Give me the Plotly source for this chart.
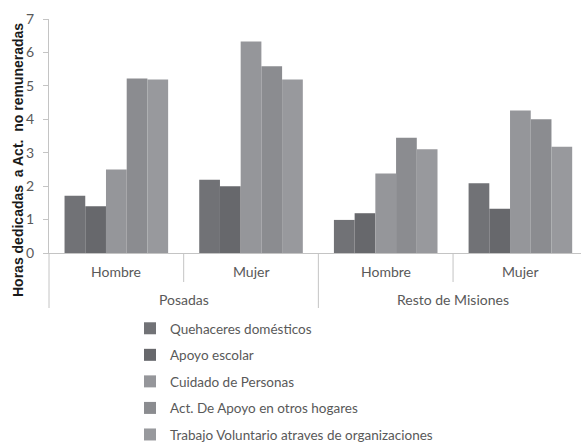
import plotly.graph_objects as go

# Regions and sex (two-level category axis)
regions = ["Posadas", "Posadas", "Resto de Misiones", "Resto de Misiones"]
sexes = ["Hombre", "Mujer", "Hombre", "Mujer"]
region_labels = ["Posadas", "Resto de Misiones"]

# Average hours per activity
series_names = [
    "Quehaceres domésticos",
    "Apoyo escolar",
    "Cuidado de Personas",
    "Act. De Apoyo en otros hogares",
    "Trabajo Voluntario atraves de organizaciones",
]
quehaceres = [1.71, 2.19, 0.99, 2.09]
apoyo_escolar = [1.40, 2.00, 1.19, 1.32]
cuidado = [2.50, 6.33, 2.38, 4.26]
apoyo_hogares = [5.22, 5.59, 3.45, 4.00]
voluntario = [5.19, 5.19, 3.10, 3.18]
series_values = [quehaceres, apoyo_escolar, cuidado, apoyo_hogares, voluntario]
colors = ["#717276", "#67686c", "#95969a", "#8b8c90", "#98999d"]

y_ticks = [0, 1, 2, 3, 4, 5, 6, 7]

W, H = 581, 442
M_L, M_T, M_B = 49, 19, 189
plot_w = W - M_L
plot_h = H - M_T - M_B
x_lo, x_hi = -0.5, 3.45
span = x_hi - x_lo


def px_x(v):
    """category index -> paper fraction"""
    return (v - x_lo) / span


def px_below(pixels):
    """pixels below the x axis -> paper fraction"""
    return -pixels / plot_h


fig = go.Figure()
for i, (name, vals, col) in enumerate(zip(series_names, series_values, colors)):
    fig.add_trace(go.Bar(
        x=[regions, sexes],
        y=vals,
        name=name,
        marker=dict(color=col, line=dict(width=0)),
        legendgroup=f"g{i}",
    ))

axis_grey = "#c4c4c4"
label_font = dict(family="Lato, Open Sans, sans-serif", size=14, color="#595959")

fig.update_layout(
    width=W,
    height=H,
    margin=dict(l=M_L, r=0, t=M_T, b=M_B, autoexpand=False),
    plot_bgcolor="white",
    paper_bgcolor="white",
    barmode="group",
    bargap=0.2308,
    bargroupgap=0,
    showlegend=True,
    legend=dict(
        x=(130 - M_L) / plot_w,
        xanchor="left",
        y=px_below(60),
        yanchor="top",
        orientation="v",
        traceorder="grouped",
        tracegroupgap=6,
        font=dict(family="Lato, Open Sans, sans-serif", size=13.5, color="#595959"),
        itemclick=False,
    ),
)

fig.update_xaxes(
    range=[x_lo, x_hi],
    showline=True,
    linecolor=axis_grey,
    linewidth=1,
    showgrid=False,
    ticks="",
    showticklabels=False,
    showdividers=False,
)

fig.update_yaxes(
    range=[0, 7],
    tickvals=y_ticks,
    showline=True,
    linecolor=axis_grey,
    linewidth=1,
    showgrid=False,
    zeroline=False,
    ticks="outside",
    ticklen=5,
    tickcolor=axis_grey,
    ticklabelstandoff=6,
    tickfont=label_font,
)

# Separators below the axis: long ones between regions, short ones between sexes
for xv, length in [(-0.5, 55), (0.5, 29), (1.5, 55), (2.5, 29)]:
    fig.add_shape(
        type="line", xref="paper", yref="paper",
        x0=px_x(xv), x1=px_x(xv), y0=0, y1=px_below(length),
        line=dict(color=axis_grey, width=1),
    )

# Inner (sex) labels
for i, s in enumerate(sexes):
    fig.add_annotation(
        text=s, xref="paper", yref="paper",
        x=px_x(i), y=px_below(18),
        xanchor="center", yanchor="middle",
        showarrow=False, font=label_font,
    )

# Outer (region) labels
for j, r in enumerate(region_labels):
    fig.add_annotation(
        text=r, xref="paper", yref="paper",
        x=px_x(2 * j + 0.5), y=px_below(46),
        xanchor="center", yanchor="middle",
        showarrow=False, font=label_font,
    )

# Vertical axis title
fig.add_annotation(
    text="Horas dedicadas\u00a0\u00a0a Act.\u00a0\u00a0no remuneradas",
    xref="paper", yref="paper",
    x=(18 - M_L) / plot_w, y=(M_T + plot_h - 160) / plot_h,
    xanchor="center", yanchor="middle",
    textangle=-90,
    showarrow=False,
    font=dict(family="Liberation Sans, Arial, sans-serif", size=14,
              color="#1a1a1a", weight="bold"),
)

fig.write_html("out.html")
